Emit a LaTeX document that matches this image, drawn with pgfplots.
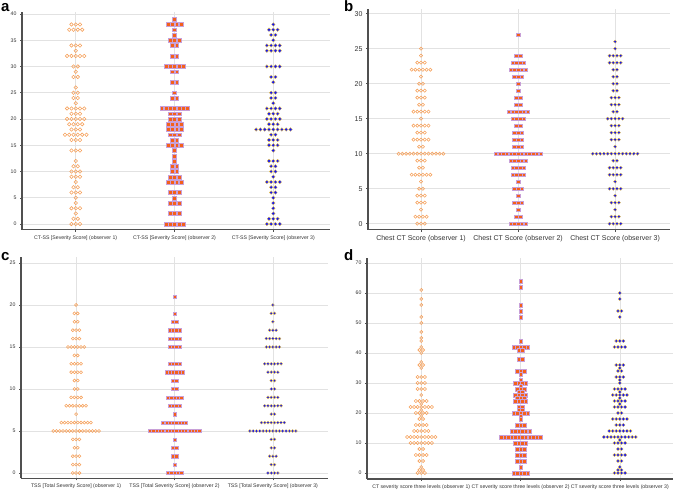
\documentclass[border=0pt]{standalone}
\usepackage{fontspec}
\setmainfont{Liberation Sans}
\usepackage{pgfplots}
\pgfplotsset{compat=1.18}
\definecolor{oc}{HTML}{F5A05A}
\definecolor{sqf}{HTML}{F4601A}
\definecolor{sqd}{HTML}{C8A0D8}
\definecolor{bf}{HTML}{1414F0}
\definecolor{bd}{HTML}{F2CC40}
\definecolor{gridc}{HTML}{E2E2E2}
\definecolor{axc}{HTML}{505050}
\pgfplotsset{
 dotpanel/.style={
  scale only axis, anchor=south west, clip=false,
  axis x line*=bottom, axis y line*=left,
  axis line style={axc, line width=1.1pt},
  xmajorgrids, ymajorgrids, grid style={gridc, line width=0.6pt},
  tick align=outside, major tick length=2pt, tick style={axc, line width=0.5pt},
  /pgf/number format/assume math mode=true,
  ticklabel style={font=\fontsize{5.2}{6}\selectfont, text=black!80},
 },
 o1/.style={only marks, mark=o, color=oc, line width=0.55pt},
 o2/.style={only marks, mark=square*, draw=sqd, fill=sqf, line width=0.3pt},
 o3/.style={only marks, mark=*, draw=bd, fill=bf, line width=0.3pt},
}
\begin{document}
\begin{tikzpicture}
\useasboundingbox (0,0) rectangle (676pt,489pt);
% ---------------- panel a ----------------
\begin{axis}[dotpanel, at={(22pt,259.2pt)}, width=308pt, height=217.4pt,
  xmin=-12.5, xmax=59.2, ymin=-1.1, ymax=40.3,
  xtick={0,23,46}, ytick={0,5,...,40},
  xticklabels={CT-SS [Severity Score] (observer 1),CT-SS [Severity Score] (observer 2),CT-SS [Severity Score] (observer 3)}]
\addplot[o1, mark size=1.75pt] coordinates {
(-1,38)(0,38)(1,38)
(-1.5,37)(-0.5,37)(0.5,37)(1.5,37)
(-1,34)(0,34)(1,34)
(0,33)
(-2,32)(-1,32)(0,32)(1,32)(2,32)
(-0.5,30)(0.5,30)
(0,29)
(-0.5,28)(0.5,28)
(0,26)
(-0.5,25)(0.5,25)
(-0.5,24)(0.5,24)
(0,23)
(-2,22)(-1,22)(0,22)(1,22)(2,22)
(-1,21)(0,21)(1,21)
(-2,20)(-1,20)(0,20)(1,20)(2,20)
(-1.5,19)(-0.5,19)(0.5,19)(1.5,19)
(-1,18)(0,18)(1,18)
(-2.5,17)(-1.5,17)(-0.5,17)(0.5,17)(1.5,17)(2.5,17)
(-1,16)(0,16)(1,16)
(-1,14)(0,14)(1,14)
(0,12)
(-0.5,11)(0.5,11)
(-1,10)(0,10)(1,10)
(-1,9)(0,9)(1,9)
(0,8)
(-0.5,7)(0.5,7)
(-1,6)(0,6)(1,6)
(0,5)
(0,4)
(-1,3)(0,3)(1,3)
(0,2)
(-0.5,1)(0.5,1)
(-1,0)(0,0)(1,0)
};
\addplot[o2, mark size=1.9pt] coordinates {
(23,39)
(21.5,38)(22.5,38)(23.5,38)(24.5,38)
(23,37)
(23,36)
(22,35)(23,35)(24,35)
(22.5,34)(23.5,34)
(22.5,32)(23.5,32)
(21,30)(22,30)(23,30)(24,30)(25,30)
(22.5,29)(23.5,29)
(22.5,27)(23.5,27)
(23,25)
(22.5,24)(23.5,24)
(20,22)(21,22)(22,22)(23,22)(24,22)(25,22)(26,22)
(22,21)(23,21)(24,21)
(22,20)(23,20)(24,20)
(21.5,19)(22.5,19)(23.5,19)(24.5,19)
(21.5,18)(22.5,18)(23.5,18)(24.5,18)
(22,17)(23,17)(24,17)
(22.5,16)(23.5,16)
(21.5,15)(22.5,15)(23.5,15)(24.5,15)
(23,14)(23,13)(23,12)
(22.5,11)(23.5,11)
(22.5,10)(23.5,10)
(22,9)(23,9)(24,9)
(21.5,8)(22.5,8)(23.5,8)(24.5,8)
(22,6)(23,6)(24,6)
(23,5)
(22,4)(23,4)(24,4)
(22,2)(23,2)(24,2)
(21,0)(22,0)(23,0)(24,0)(25,0)
};
\addplot[o3, mark size=1.8pt] coordinates {
(46,38)
(45,37)(46,37)(47,37)
(45.5,36)(46.5,36)
(46,35)
(44.5,34)(45.5,34)(46.5,34)(47.5,34)
(44.5,33)(45.5,33)(46.5,33)(47.5,33)
(44.5,30)(45.5,30)(46.5,30)(47.5,30)
(45.5,28)(46.5,28)
(46,27)
(45.5,25)(46.5,25)
(45.5,24)(46.5,24)
(46,23)
(44.5,22)(45.5,22)(46.5,22)(47.5,22)
(45,21)(46,21)(47,21)
(44.5,20)(45.5,20)(46.5,20)(47.5,20)
(45,19)(46,19)(47,19)
(42,18)(43,18)(44,18)(45,18)(46,18)(47,18)(48,18)(49,18)(50,18)
(45.5,17)(46.5,17)
(45,16)(46,16)(47,16)
(45,15)(46,15)(47,15)
(46,14)
(45,12)(46,12)(47,12)
(45.5,11)(46.5,11)
(45.5,10)(46.5,10)
(46,9)
(44.5,8)(45.5,8)(46.5,8)(47.5,8)
(45.5,7)(46.5,7)
(45.5,6)(46.5,6)
(46,5)(46,4)(46,3)(46,2)
(45,1)(46,1)(47,1)
(44.5,0)(45.5,0)(46.5,0)(47.5,0)
};
\end{axis}
% ---------------- panel b ----------------
\begin{axis}[dotpanel, at={(368pt,259.3pt)}, width=302pt, height=220.2pt,
  xmin=-14.2, xmax=66.7, ymin=-0.86, ymax=30.6,
  xtick={0,26,52}, ytick={0,5,...,30},
  ticklabel style={font=\fontsize{7}{8}\selectfont, text=black!80},
  xticklabels={Chest CT Score (observer 1),Chest CT Score (observer 2),Chest CT Score (observer 3)}]
\addplot[o1, mark size=1.6pt] coordinates {
(0,25)(0,24)
(-1,23)(0,23)(1,23)
(-2.5,22)(-1.5,22)(-0.5,22)(0.5,22)(1.5,22)(2.5,22)
(0,21)
(-0.5,20)(0.5,20)
(-1,19)(0,19)(1,19)
(-1,18)(0,18)(1,18)
(-0.5,17)(0.5,17)
(-2,16)(-1,16)(0,16)(1,16)(2,16)
(0,15)
(-2,14)(-1,14)(0,14)(1,14)(2,14)
(-1,13)(0,13)(1,13)
(-2,12)(-1,12)(0,12)(1,12)(2,12)
(-0.5,11)(0.5,11)
(-6,10)(-5,10)(-4,10)(-3,10)(-2,10)(-1,10)(0,10)(1,10)(2,10)(3,10)(4,10)(5,10)(6,10)
(-1,9)(0,9)(1,9)
(-0.5,8)(0.5,8)
(-2.5,7)(-1.5,7)(-0.5,7)(0.5,7)(1.5,7)(2.5,7)
(0,6)
(-0.5,5)(0.5,5)
(-1,4)(0,4)(1,4)
(-1,3)(0,3)(1,3)
(0,2)
(-1.5,1)(-0.5,1)(0.5,1)(1.5,1)
(-1,0)(0,0)(1,0)
};
\addplot[o2, mark size=1.75pt] coordinates {
(26,27)
(25.5,24)(26.5,24)
(24.5,23)(25.5,23)(26.5,23)(27.5,23)
(24,22)(25,22)(26,22)(27,22)(28,22)
(25,21)(26,21)(27,21)
(26,20)(26,19)
(25.5,18)(26.5,18)
(25.5,17)(26.5,17)
(23.5,16)(24.5,16)(25.5,16)(26.5,16)(27.5,16)(28.5,16)
(24.5,15)(25.5,15)(26.5,15)(27.5,15)
(25.5,14)(26.5,14)
(25,13)(26,13)(27,13)
(25,12)(26,12)(27,12)
(25,11)(26,11)(27,11)
(20,10)(21,10)(22,10)(23,10)(24,10)(25,10)(26,10)(27,10)(28,10)(29,10)(30,10)(31,10)(32,10)
(24,9)(25,9)(26,9)(27,9)(28,9)
(24.5,8)(25.5,8)(26.5,8)(27.5,8)
(24.5,7)(25.5,7)(26.5,7)(27.5,7)
(26,6)
(25,5)(26,5)(27,5)
(26,4)
(25,3)(26,3)(27,3)
(26,2)
(25.5,1)(26.5,1)
(24,0)(25,0)(26,0)(27,0)(28,0)
};
\addplot[o3, mark size=1.65pt] coordinates {
(52,26)(52,25)
(50.5,24)(51.5,24)(52.5,24)(53.5,24)
(50.5,23)(51.5,23)(52.5,23)(53.5,23)
(51.5,22)(52.5,22)
(51.5,21)(52.5,21)
(51.5,20)(52.5,20)
(51.5,19)(52.5,19)
(51,18)(52,18)(53,18)
(51,17)(52,17)(53,17)
(51.5,16)(52.5,16)
(50,15)(51,15)(52,15)(53,15)(54,15)
(51,14)(52,14)(53,14)
(51,13)(52,13)(53,13)
(51,12)(52,12)(53,12)
(52,11)
(46,10)(47,10)(48,10)(49,10)(50,10)(51,10)(52,10)(53,10)(54,10)(55,10)(56,10)(57,10)(58,10)
(51.5,9)(52.5,9)
(50.5,8)(51.5,8)(52.5,8)(53.5,8)
(50.5,7)(51.5,7)(52.5,7)(53.5,7)
(52,6)
(50.5,5)(51.5,5)(52.5,5)(53.5,5)
(52,4)
(51,3)(52,3)(53,3)
(52,2)
(51,1)(52,1)(53,1)
(50.5,0)(51.5,0)(52.5,0)(53.5,0)
};
\end{axis}
% ---------------- panel c ----------------
\begin{axis}[dotpanel, at={(21pt,10.7pt)}, width=307pt, height=221.2pt,
  xmin=-16.8, xmax=76.8, ymin=-0.63, ymax=25.7,
  xtick={0,30,60}, ytick={0,5,...,25},
  xticklabels={TSS [Total Severity Score] (observer 1),TSS [Total Severity Score] (observer 2),TSS [Total Severity Score] (observer 3)}]
\addplot[o1, mark size=1.5pt] coordinates {
(0,20)
(-0.5,19)(0.5,19)
(-0.5,18)(0.5,18)
(-1,17)(0,17)(1,17)
(-1,16)(0,16)(1,16)
(-2.5,15)(-1.5,15)(-0.5,15)(0.5,15)(1.5,15)(2.5,15)
(-0.5,14)(0.5,14)
(-1.5,13)(-0.5,13)(0.5,13)(1.5,13)
(-1.5,12)(-0.5,12)(0.5,12)(1.5,12)
(-0.5,11)(0.5,11)
(-0.5,10)(0.5,10)
(-1.5,9)(-0.5,9)(0.5,9)(1.5,9)
(-3,8)(-2,8)(-1,8)(0,8)(1,8)(2,8)(3,8)
(0,7)
(-4.5,6)(-3.5,6)(-2.5,6)(-1.5,6)(-0.5,6)(0.5,6)(1.5,6)(2.5,6)(3.5,6)(4.5,6)
(-7,5)(-6,5)(-5,5)(-4,5)(-3,5)(-2,5)(-1,5)(0,5)(1,5)(2,5)(3,5)(4,5)(5,5)(6,5)(7,5)
(-1,4)(0,4)(1,4)
(-0.5,3)(0.5,3)
(-1,2)(0,2)(1,2)
(-1,1)(0,1)(1,1)
(-1,0)(0,0)(1,0)
};
\addplot[o2, mark size=1.6pt] coordinates {
(30,21)(30,19)
(29.5,18)(30.5,18)
(28.5,17)(29.5,17)(30.5,17)(31.5,17)
(28.5,16)(29.5,16)(30.5,16)(31.5,16)
(28.5,15)(29.5,15)(30.5,15)(31.5,15)
(28.5,13)(29.5,13)(30.5,13)(31.5,13)
(27.5,12)(28.5,12)(29.5,12)(30.5,12)(31.5,12)(32.5,12)
(29.5,11)(30.5,11)
(29.5,10)(30.5,10)
(28,9)(29,9)(30,9)(31,9)(32,9)
(28.5,8)(29.5,8)(30.5,8)(31.5,8)
(30,7)
(26.5,6)(27.5,6)(28.5,6)(29.5,6)(30.5,6)(31.5,6)(32.5,6)(33.5,6)
(22.5,5)(23.5,5)(24.5,5)(25.5,5)(26.5,5)(27.5,5)(28.5,5)(29.5,5)(30.5,5)(31.5,5)(32.5,5)(33.5,5)(34.5,5)(35.5,5)(36.5,5)(37.5,5)
(30,4)
(29.5,3)(30.5,3)
(29.5,2)(30.5,2)
(30,1)
(28,0)(29,0)(30,0)(31,0)(32,0)
};
\addplot[o3, mark size=1.5pt] coordinates {
(60,20)
(59.5,19)(60.5,19)
(60,18)
(59,17)(60,17)(61,17)
(58,16)(59,16)(60,16)(61,16)(62,16)
(58,15)(59,15)(60,15)(61,15)(62,15)
(57.5,13)(58.5,13)(59.5,13)(60.5,13)(61.5,13)(62.5,13)
(58.5,12)(59.5,12)(60.5,12)(61.5,12)
(59.5,11)(60.5,11)
(59.5,10)(60.5,10)
(58.5,9)(59.5,9)(60.5,9)(61.5,9)
(57.5,8)(58.5,8)(59.5,8)(60.5,8)(61.5,8)(62.5,8)
(59.5,7)(60.5,7)
(56.5,6)(57.5,6)(58.5,6)(59.5,6)(60.5,6)(61.5,6)(62.5,6)(63.5,6)
(53,5)(54,5)(55,5)(56,5)(57,5)(58,5)(59,5)(60,5)(61,5)(62,5)(63,5)(64,5)(65,5)(66,5)(67,5)
(59.5,4)(60.5,4)
(59.5,3)(60.5,3)
(59,2)(60,2)(61,2)
(59.5,1)(60.5,1)
(58.5,0)(59.5,0)(60.5,0)(61.5,0)
};
\end{axis}
% ---------------- panel d ----------------
\begin{axis}[dotpanel, at={(367pt,10pt)}, width=306pt, height=221.1pt,
  xmin=-15.3, xmax=71.0, ymin=-2, ymax=71.7,
  xtick={0,28,56}, ytick={0,10,...,70},
  xticklabels={CT severity score three levels (observer 1),CT severity score three levels (observer 2),CT severity score three levels (observer 3)}]
\addplot[o1, mark size=1.6pt] coordinates {
(0,61)(0,58)(0,56)(0,52)(0,50)(0,47)(0,45)(0,44)(0,42)
(-0.5,41)(0.5,41)(0,40)(0,37)(-0.5,36)(0.5,36)(0,35)
(-1,32)(0,32)(1,32)
(-1,30)(0,30)(1,30)
(-1,28)(0,28)(1,28)
(0,26)
(-1.5,24)(-0.5,24)(0.5,24)(1.5,24)
(0,23)
(-3,22)(-2,22)(-1,22)(0,22)(1,22)(2,22)(3,22)
(0,21)
(-1.5,20)(-0.5,20)(0.5,20)(1.5,20)
(0,19)
(-0.5,18)(0.5,18)
(-1.5,16)(-0.5,16)(0.5,16)(1.5,16)
(-2,14)(-1,14)(0,14)(1,14)(2,14)
(-4,12)(-3,12)(-2,12)(-1,12)(0,12)(1,12)(2,12)(3,12)(4,12)
(-3,10)(-2,10)(-1,10)(0,10)(1,10)(2,10)(3,10)
(-0.5,8)(0.5,8)
(-1.5,6)(-0.5,6)(0.5,6)(1.5,6)
(-0.5,4)(0.5,4)
(0,2)
(-0.5,1)(0.5,1)
(-1,0)(0,0)(1,0)
};
\addplot[o2, mark size=1.75pt] coordinates {
(28,64)(28,62)(28,56)(28,54)(28,52)(28,44)
(26,42)(27,42)(28,42)(29,42)(30,42)
(27.5,41)(28.5,41)
(27.5,38)(28.5,38)
(27,34)(28,34)(29,34)
(28,33)(28,31)
(26.5,30)(27.5,30)(28.5,30)(29.5,30)
(28,29)
(27,28)(28,28)(29,28)
(27.5,27)(28.5,27)
(26.5,26)(27.5,26)(28.5,26)(29.5,26)
(27,25)(28,25)(29,25)
(26.5,24)(27.5,24)(28.5,24)(29.5,24)
(27.5,22)(28.5,22)
(27.5,21)(28.5,21)
(26,20)(27,20)(28,20)(29,20)(30,20)
(28,19)(28,18)
(27,16)(28,16)(29,16)
(25.5,14)(26.5,14)(27.5,14)(28.5,14)(29.5,14)(30.5,14)
(22.5,12)(23.5,12)(24.5,12)(25.5,12)(26.5,12)(27.5,12)(28.5,12)(29.5,12)(30.5,12)(31.5,12)(32.5,12)(33.5,12)
(26.5,10)(27.5,10)(28.5,10)(29.5,10)
(27,8)(28,8)(29,8)
(27,6)(28,6)(29,6)
(27,4)(28,4)(29,4)
(28,2)
(26,0)(27,0)(28,0)(29,0)(30,0)
};
\addplot[o3, mark size=1.65pt] coordinates {
(56,60)(56,58)(55.5,54)(56.5,54)(56,52)
(55,44)(56,44)(57,44)
(54.5,42)(55.5,42)(56.5,42)(57.5,42)
(55,36)(56,36)(57,36)
(56,35)
(55.5,34)(56.5,34)
(55,32)(56,32)(57,32)
(56,31)(56,30)
(54.5,28)(55.5,28)(56.5,28)(57.5,28)
(56,27)
(54,26)(55,26)(56,26)(57,26)(58,26)
(56,25)
(54.5,24)(55.5,24)(56.5,24)(57.5,24)
(56,23)
(54.5,22)(55.5,22)(56.5,22)(57.5,22)
(55.5,20)(56.5,20)
(54,18)(55,18)(56,18)(57,18)(58,18)
(55,16)(56,16)(57,16)
(53,14)(54,14)(55,14)(56,14)(57,14)(58,14)(59,14)
(51.5,12)(52.5,12)(53.5,12)(54.5,12)(55.5,12)(56.5,12)(57.5,12)(58.5,12)(59.5,12)(60.5,12)
(56,11)
(54.5,10)(55.5,10)(56.5,10)(57.5,10)
(55.5,8)(56.5,8)
(54.5,6)(55.5,6)(56.5,6)(57.5,6)
(55.5,4)(56.5,4)
(56,2)
(55.5,1)(56.5,1)
(54.5,0)(55.5,0)(56.5,0)(57.5,0)
};
\end{axis}
% panel letters
\node[anchor=base west, inner sep=0pt, font=\bfseries\fontsize{15}{15}\selectfont] at (1pt,477pt) {a};
\node[anchor=base west, inner sep=0pt, font=\bfseries\fontsize{15}{15}\selectfont] at (344pt,477pt) {b};
\node[anchor=base west, inner sep=0pt, font=\bfseries\fontsize{15}{15}\selectfont] at (1pt,228pt) {c};
\node[anchor=base west, inner sep=0pt, font=\bfseries\fontsize{15}{15}\selectfont] at (344pt,228pt) {d};
\end{tikzpicture}
\end{document}
